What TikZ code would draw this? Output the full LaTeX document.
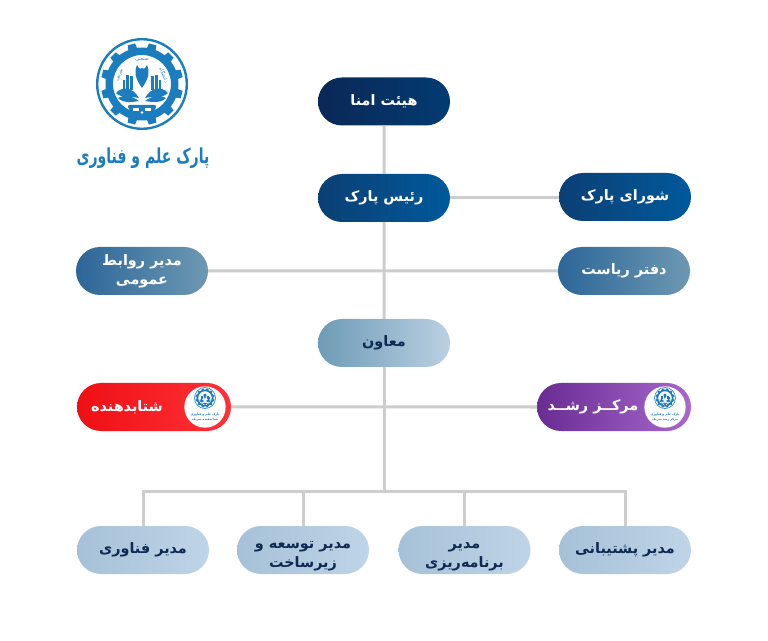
\documentclass[tikz,border=0pt]{standalone}
\usepackage{xcolor}
\usepackage{fontspec}
\usetikzlibrary{shapes.misc,calc}
\TeXXeTstate=1
\newfontfamily\fafont[Script=Arabic]{DejaVu Sans}
\newcommand{\rtl}[1]{\beginR#1\endR}
\definecolor{logoblue}{HTML}{1C7DBE}
\definecolor{linegray}{HTML}{CDCDCD}
\definecolor{inknavy}{HTML}{0E2A52}
\definecolor{lowL}{HTML}{A6C1D7}
\definecolor{lowR}{HTML}{BFD4E7}
\definecolor{heyatL}{HTML}{0A2857}
\definecolor{heyatR}{HTML}{033B72}
\definecolor{raeesL}{HTML}{0B3F74}
\definecolor{raeesR}{HTML}{01599B}
\definecolor{daftarL}{HTML}{2C6698}
\definecolor{daftarR}{HTML}{6D98B2}
\definecolor{moavenL}{HTML}{6E9BB6}
\definecolor{moavenR}{HTML}{BAD0E2}
\definecolor{shetabL}{HTML}{EE0F14}
\definecolor{shetabR}{HTML}{FF3238}
\definecolor{roshdL}{HTML}{682C92}
\definecolor{roshdR}{HTML}{A868CC}
\tikzset{
	pill/.style={rounded rectangle,minimum width=99pt,minimum height=36pt,inner sep=0pt,outer sep=0pt,
		align=center,font=\fafont\bfseries\fontsize{10.8}{14}\selectfont,shading angle=70},
	lightpill/.style={pill,text=white},
	darktext/.style={pill,text=inknavy},
	lowpill/.style={darktext,left color=lowL,right color=lowR},
	widepill/.style={pill,minimum width=115.5pt},
	pilltext/.style={text=white,font=\fafont\bfseries\fontsize{10.8}{14}\selectfont},
	tinytext/.style={align=center,text=logoblue,font=\fafont\bfseries\fontsize{2.3}{3.4}\selectfont,inner sep=0pt},
	link/.style={draw=linegray,line width=2.25pt},
	badge/.style={circle,fill=white,minimum size=31pt,inner sep=0pt},
	emblem/.pic={
		\fill[logoblue,even odd rule] (0,0) circle (46) (0,0) circle (43.6);
		\fill[logoblue,even odd rule] (0,0) circle (36.5) (0,0) circle (29);
		\foreach \ang in {15,45,...,345}
		\fill[logoblue,rotate=\ang] (-4.6,35) -- (-3.8,41) -- (3.8,41) -- (4.6,35) -- cycle;
		\fill[logoblue] (0,-4) .. controls (-7,6) and (-8,12) .. (-5,19) .. controls (-3,15) and (-1,14) .. (0,16)
			.. controls (1,14) and (3,15) .. (5,19) .. controls (8,12) and (7,6) .. (0,-4) -- cycle;
		\foreach \sgn in {-1,1}{
			\fill[logoblue,xscale=\sgn] (9,-6) rectangle (12,8);
			\fill[logoblue,xscale=\sgn] (13,-6) rectangle (16,9);
			\fill[logoblue,xscale=\sgn] (17,-6) rectangle (19,4);
			\fill[logoblue,xscale=\sgn] (26,-9) .. controls (20,-2) and (9,-3) .. (3,-14)
				.. controls (10,-12) and (20,-15) .. (26,-9) -- cycle;
			\fill[logoblue,xscale=\sgn] (24,-14) .. controls (18,-10) and (10,-12) .. (3,-17)
				.. controls (10,-18) and (18,-20) .. (24,-14) -- cycle;
		}
		\fill[logoblue,rounded corners=2] (-15,-21) -- (15,-21) -- (10,-31) -- (-10,-31) -- cycle;
		\fill[white] (-9,-24) rectangle (-3,-27);
		\fill[white] (3,-24) rectangle (9,-27);
		\fill[white] (0,-28.5) circle (1.4);
	}
}
\begin{document}
\begin{tikzpicture}[x=.75pt,y=.75pt]
	\useasboundingbox (0,0) rectangle (768,640);

	\pic at (142,556) {emblem};
	\foreach \ang/\word in {22/دانشگاه,90/صنعتی,158/شریف}
	\node[rotate=\ang-90,text=logoblue,font=\fafont\fontsize{3.6}{4}\selectfont,inner sep=0pt]
		at ($(142,556)+(\ang:24)$) {\rtl{\word}};
	\node[transform shape,xscale=.68,text=logoblue,font=\fafont\bfseries\fontsize{15.5}{18}\selectfont,inner sep=0pt] (logotext) at (143,482) {\rtl{پارک علم و فناوری}};

	\node[lightpill,left color=heyatL,right color=heyatR] (heyat) at (384,538.5) {\rtl{هیئت امنا}};
	\node[lightpill,left color=raeesL,right color=raeesR] (raees) at (384,442) {\rtl{رئیس پارک}};
	\node[lightpill,left color=raeesL,right color=raeesR] (shora) at (625,443) {\rtl{شورای پارک}};
	\node[lightpill,left color=daftarL,right color=daftarR] (daftar) at (624,369) {\rtl{دفتر ریاست}};
	\node[lightpill,left color=daftarL,right color=daftarR] (ravabet) at (142,369) {\rtl{مدیر روابط}\\\rtl{عمومی}};
	\node[darktext,left color=moavenL,right color=moavenR] (moaven) at (384,297) {\rtl{معاون}};

	\node[widepill,left color=shetabL,right color=shetabR] (shetab) at (154,233) {};
	\node[widepill,left color=roshdL,right color=roshdR] (roshd) at (614,233) {};

	\node[badge] (shetabbadge) at (205,233) {};
	\pic[scale=.235] at (205,242) {emblem};
	\node[tinytext] (shetabtiny) at (205,223) {\rtl{پارک علم و فناوری}\\\rtl{شتابدهنده شریف}};
	\node[pilltext] (shetablabel) at (127,233) {\rtl{شتابدهنده}};

	\node[badge] (roshdbadge) at (665,233) {};
	\pic[scale=.235] at (665,242) {emblem};
	\node[tinytext] (roshdtiny) at (665,223) {\rtl{پارک علم و فناوری}\\\rtl{مرکز رشد شریف}};
	\node[pilltext] (roshdlabel) at (593,233) {\rtl{مرکــز رشــد}};

	\node[lowpill] (fanavari) at (143,90) {\rtl{مدیر فناوری}};
	\node[lowpill] (tosee) at (303,90) {\mbox{}\\[1pt]\rtl{مدیر توسعه و}\\\rtl{زیرساخت}};
	\node[lowpill] (barname) at (464.5,90) {\mbox{}\\[1pt]\rtl{مدیر}\\\rtl{برنامه‌ریزی}};
	\node[lowpill] (poshtibani) at (625,90) {\rtl{مدیر پشتیبانی}};

	\coordinate (bus) at (384,149);
	\draw[link] (heyat) -- (raees);
	\draw[link] (raees.east) -- (raees.east -| shora.west);
	\draw[link] (raees) -- (moaven);
	\draw[link] (ravabet) -- (daftar);
	\draw[link] (shetab) -- (roshd);
	\draw[link] (moaven) -- (bus);
	\draw[link] (fanavari.north) |- (bus) -| (poshtibani.north);
	\draw[link] (bus -| tosee.north) -- (tosee.north);
	\draw[link] (bus -| barname.north) -- (barname.north);
\end{tikzpicture}
\end{document}
